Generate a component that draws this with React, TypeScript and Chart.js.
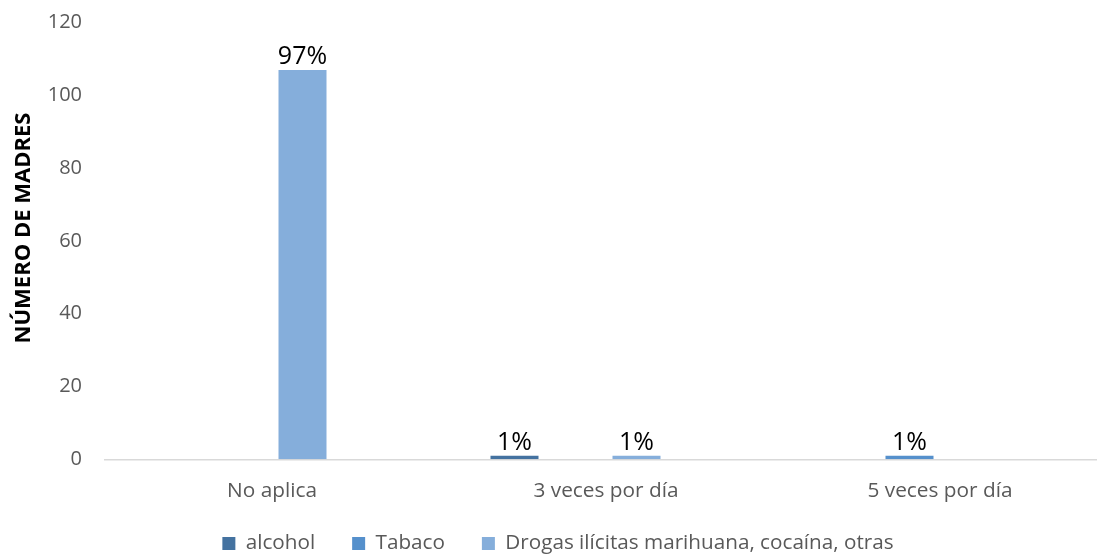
import React, { useEffect, useRef } from "react";
import { Chart, registerables } from "chart.js";

Chart.register(...registerables);

// ---- data ----
const categories = ["No aplica", "3 veces por día", "5 veces por día"];
const seriesNames = ["alcohol", "Tabaco", "Drogas ilícitas marihuana, cocaína, otras"];
const alcohol: (number | null)[] = [null, 1, null];
const tabaco: (number | null)[] = [null, null, 1];
const drogas: (number | null)[] = [107, 1, null];
const emptySeries: (number | null)[] = [null, null, null];
const alcoholPct = ["", "1%", ""];
const tabacoPct = ["", "", "1%"];
const drogasPct = ["97%", "1%", ""];
const yMin = 0;
const yMax = 120;
const yStep = 20;
const yTitle = "NÚMERO DE MADRES";

// ---- styles ----
const colors = ["#4472A0", "#5590CC", "#85AEDB", "#A9C5E8"];
const FONT = "'Open Sans', 'DejaVu Sans', sans-serif";
const GREY = "#595959";
const LEGEND_PAD = 37;
const LEGEND_FONT = 20.7;
const CANVAS_H = 570;
const LEGEND_SHIFT_Y = 6.2;
const LEGEND_SHIFT_X = 4.5;

const pctLabels = [alcoholPct, tabacoPct, drogasPct];

const dataLabelPlugin = {
  id: "dataLabelPlugin",
  afterDatasetsDraw(chart: any) {
    const ctx = chart.ctx;
    ctx.save();
    ctx.font = `25px ${FONT}`;
    ctx.fillStyle = "#000000";
    ctx.textAlign = "center";
    ctx.textBaseline = "alphabetic";
    pctLabels.forEach((labels, di) => {
      const meta = chart.getDatasetMeta(di);
      meta.data.forEach((el: any, j: number) => {
        const t = labels[j];
        if (t) ctx.fillText(t, el.x, el.y - 6);
      });
    });
    ctx.restore();
  },
};

const yTitlePlugin = {
  id: "yTitlePlugin",
  afterDraw(chart: any) {
    const ctx = chart.ctx;
    ctx.save();
    ctx.translate(24, 228);
    ctx.rotate(-Math.PI / 2);
    ctx.font = `bold 22px ${FONT}`;
    ctx.fillStyle = "#000000";
    ctx.textAlign = "center";
    ctx.textBaseline = "middle";
    ctx.fillText(yTitle, 0, 0);
    ctx.restore();
  },
};

// place the legend row closer to the axis labels
const legendShiftPlugin = {
  id: "legendShiftPlugin",
  afterLayout(chart: any) {
    const lg = chart.legend;
    if (lg) {
      lg.top -= LEGEND_SHIFT_Y;
      lg.bottom -= LEGEND_SHIFT_Y;
      lg.left += LEGEND_SHIFT_X;
      lg.right += LEGEND_SHIFT_X;
    }
  },
};

export default function App() {
  const ref = useRef<HTMLCanvasElement | null>(null);

  useEffect(() => {
    if (!ref.current) return;
    const seriesData = [alcohol, tabaco, drogas, emptySeries];
    const chart = new Chart(ref.current, {
      type: "bar",
      data: {
        labels: categories,
        datasets: seriesData.map((d, i) => ({
          label: i < seriesNames.length ? seriesNames[i] : "",
          data: d,
          backgroundColor: colors[i],
          borderWidth: 0,
          categoryPercentage: 0.7305,
          barPercentage: 0.787,
        })),
      },
      options: {
        animation: false,
        responsive: false,
        devicePixelRatio: 1,
        layout: { padding: { top: 22.7, right: 9, left: 0, bottom: 0 } },
        plugins: {
          tooltip: { enabled: false },
          legend: {
            position: "bottom",
            labels: {
              boxWidth: 13,
              boxHeight: 13,
              padding: LEGEND_PAD,
              color: GREY,
              font: { family: FONT, size: LEGEND_FONT },
              filter: (item: any) => item.datasetIndex < seriesNames.length,
            },
          },
        },
        scales: {
          x: {
            type: "category",
            offset: true,
            grid: { display: false, drawTicks: false },
            border: { display: true, color: "#D9D9D9", width: 1.5 },
            ticks: { color: GREY, font: { family: FONT, size: 20.8 }, padding: 19 },
            afterFit: (s: any) => {
              s.height = 43;
            },
          },
          y: {
            min: yMin,
            max: yMax,
            grid: { display: false, drawTicks: false },
            border: { display: false },
            ticks: {
              stepSize: yStep,
              color: GREY,
              font: { family: FONT, size: 20 },
              padding: 23,
            },
            afterFit: (s: any) => {
              s.width = 105;
              s.paddingTop = 10;
              s.paddingBottom = 10;
            },
          },
        },
      },
      plugins: [dataLabelPlugin, yTitlePlugin, legendShiftPlugin],
    });
    return () => chart.destroy();
  }, []);

  return (
    <div
      style={{
        position: "fixed",
        left: 0,
        top: 0,
        width: 1097,
        height: 554,
        overflow: "hidden",
        background: "#ffffff",
      }}
    >
      <canvas ref={ref} width={1116} height={CANVAS_H} style={{ display: "block" }} />
    </div>
  );
}
